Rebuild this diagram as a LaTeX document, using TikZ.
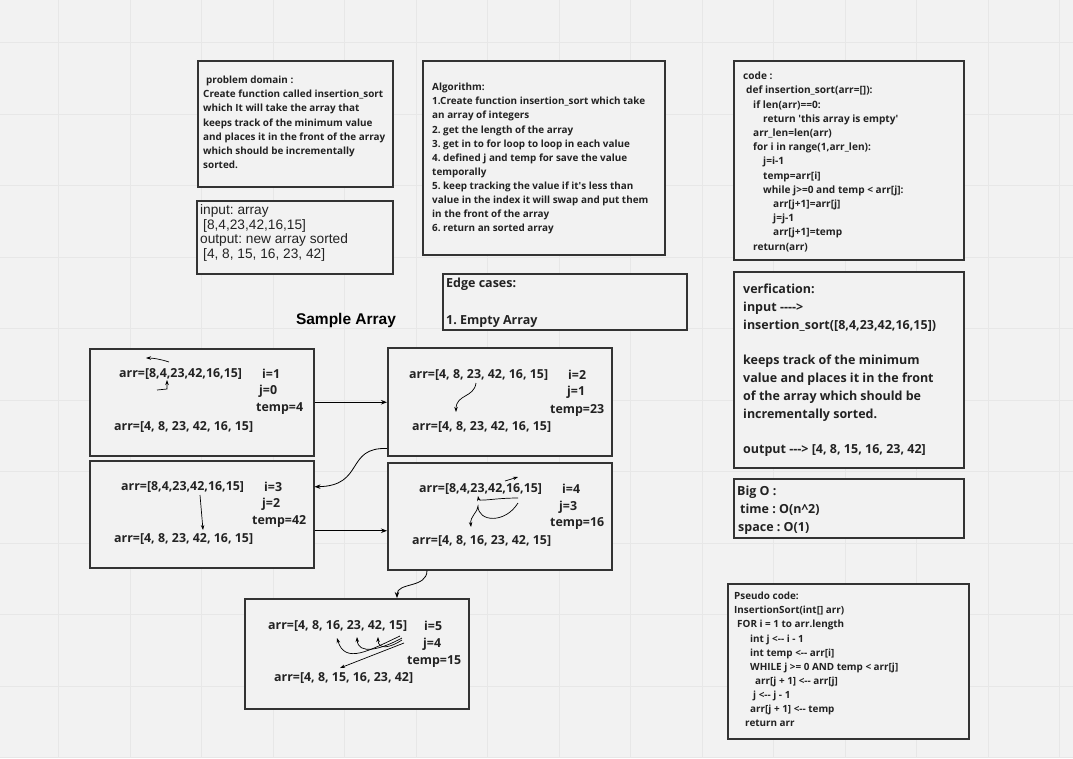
\documentclass[tikz,border=0pt]{standalone}
\usepackage{fontspec}
\setmainfont{Open Sans}
\newfontfamily\arialf{Liberation Sans}
\usetikzlibrary{arrows.meta,calc}
\definecolor{bg}{HTML}{F2F2F2}
\definecolor{gridc}{HTML}{E7E7E7}
\definecolor{edgec}{HTML}{333333}
\definecolor{txt}{HTML}{222222}
\begin{document}
\frenchspacing
\begin{tikzpicture}[x=1pt,y=-1pt,
 box/.style={draw=edgec,line width=1.5pt,fill=bg,anchor=north west,inner sep=0pt},
 blk/.style={anchor=north west,inner sep=0pt,align=left,text=txt,font=\bfseries\fontsize{9.9}{14.1}\selectfont},
 bigblk/.style={anchor=north west,inner sep=0pt,align=left,text=txt,font=\bfseries\fontsize{12.5}{17.8}\selectfont},
 ln/.style={anchor=west,inner sep=0pt,text=txt,font=\bfseries\fontsize{12.4}{14}\selectfont},
 con/.style={draw=black,line width=0.8pt,-{Stealth[length=6pt,width=4.5pt]}},
 mini/.style={draw=black,line width=0.7pt,-{Stealth[length=5pt,width=3.5pt]}},
]
\fill[bg] (0,0) rectangle (1073,758);
\useasboundingbox (0,0) rectangle (1073,758);
\foreach \gx in {58.5,130,...,1070} \draw[gridc,line width=0.6pt] (\gx,0) -- (\gx,758);
\foreach \gy in {42.5,114,...,758} \draw[gridc,line width=0.6pt] (0,\gy) -- (1073,\gy);

% boxes
\node[box,minimum width=195pt,minimum height=126pt] (pd) at (197,60) {};
\node[box,minimum width=242pt,minimum height=194pt] (alg) at (422,60) {};
\node[box,minimum width=230pt,minimum height=199pt] (code) at (733,60) {};
\node[box,minimum width=196pt,minimum height=73pt] (inp) at (196,200) {};
\node[box,minimum width=244pt,minimum height=56pt] (edge) at (442,273) {};
\node[box,minimum width=230pt,minimum height=196pt] (ver) at (733,271) {};
\node[box,minimum width=230pt,minimum height=59pt] (bigo) at (733,478) {};
\node[box,minimum width=241pt,minimum height=155pt] (pseudo) at (727,583) {};
\node[box,minimum width=224pt,minimum height=107pt] (bA) at (89,348) {};
\node[box,minimum width=224pt,minimum height=108pt] (bB) at (387,347) {};
\node[box,minimum width=224pt,minimum height=107pt] (bC) at (89,460) {};
\node[box,minimum width=224pt,minimum height=107pt] (bD) at (387,462) {};
\node[box,minimum width=224pt,minimum height=110pt] (bE) at (244,598) {};

% texts
\node[blk] (tpd) at (203,76) {\hspace*{3pt}problem domain :\\
Create function called insertion\_sort\\
which It will take the array that\\
keeps track of the minimum value\\
and places it in the front of the array\\
which should be incrementally\\
sorted.};

\node[blk] (talg) at (432,83) {Algorithm:\\
1.Create function insertion\_sort which take\\
an array of integers\\
2. get the length of the array\\
3. get in to for loop to loop in each value\\
4. defined j and temp for save the value\\
temporally\\
5. keep tracking the value if it\textquotesingle s less than\\
value in the index it will swap and put them\\
in the front of the array\\
6. return an sorted array};

\node[blk,font=\bfseries\fontsize{10.1}{14.2}\selectfont] (tcode) at (743,71.9) {code :\\
\hspace*{3pt}def insertion\_sort(arr={}[{}]):\\
\hspace*{10pt}if len(arr)==0:\\
\hspace*{20pt}return \textquotesingle this array is empty\textquotesingle\\
\hspace*{10pt}arr\_len=len(arr)\\
\hspace*{10pt}for i in range(1,arr\_len):\\
\hspace*{20pt}j=i-1\\
\hspace*{20pt}temp=arr[i]\\
\hspace*{20pt}while j>=0 and temp < arr[j]:\\
\hspace*{30pt}arr[j+1]=arr[j]\\
\hspace*{30pt}j=j-1\\
\hspace*{30pt}arr[j+1]=temp\\
\hspace*{10pt}return(arr)};

\node[anchor=north west,inner sep=0pt,align=left,text=txt,font=\arialf\fontsize{13.7}{14.5}\selectfont] (tinp) at (200,204.5) {input: array\\
\hspace*{3pt}[8,4,23,42,16,15]\\
output: new array sorted\\
\hspace*{3pt}[4, 8, 15, 16, 23, 42]};

\node[bigblk,font=\bfseries\fontsize{12.5}{18.5}\selectfont] (tedge) at (446,278) {Edge cases:\\[18.5pt]
1. Empty Array};

\node[bigblk] (tver) at (743,284) {verfication:\\
input -{}-{}-{}->\\
insertion\_sort([8,4,23,42,16,15])\\[17.8pt]
keeps track of the minimum\\
value and places it in the front\\
of the array which should be\\
incrementally sorted.\\[17.8pt]
output -{}-{}-> [4, 8, 15, 16, 23, 42]};

\node[bigblk,font=\bfseries\fontsize{12.5}{18}\selectfont] (tbigo) at (737,486) {Big O :\\
\hspace*{3pt}time : O(n\textasciicircum 2)\\
\hspace*{1pt}space : O(1)};

\node[blk] (tpseudo) at (734,592) {Pseudo code:\\
InsertionSort(int[{}] arr)\\
\hspace*{3pt}FOR i = 1 to arr.length\\
\hspace*{16pt}int j <-{}- i - 1\\
\hspace*{16pt}int temp <-{}- arr[i]\\
\hspace*{16pt}WHILE j >= 0 AND temp < arr[j]\\
\hspace*{21pt}arr[j + 1] <-{}- arr[j]\\
\hspace*{19pt}j <-{}- j - 1\\
\hspace*{16pt}arr[j + 1] <-{}- temp\\
\hspace*{11pt}return arr};

\node[anchor=center,inner sep=0pt,text=black,font=\arialf\bfseries\fontsize{15.5}{18}\selectfont] (tsample) at (346,320) {Sample Array};

% box A
\node[ln] (a1) at (119,374) {arr=[8,4,23,42,16,15]};
\node[ln] (ai) at (262,374) {i=1};
\node[ln] (aj) at (259,391) {j=0};
\node[ln] (at) at (256,409) {temp=4};
\node[ln] (a2) at (114,427) {arr=[4, 8, 23, 42, 16, 15]};
% box B
\node[ln] (b1) at (409,375) {arr=[4, 8, 23, 42, 16, 15]};
\node[ln] (bi) at (568,375) {i=2};
\node[ln] (bj) at (567,392) {j=1};
\node[ln] (bt) at (550,410) {temp=23};
\node[ln] (b2) at (412,427) {arr=[4, 8, 23, 42, 16, 15]};
% box C
\node[ln] (c1) at (121,487) {arr=[8,4,23,42,16,15]};
\node[ln] (ci) at (264,487) {i=3};
\node[ln] (cj) at (262,504) {j=2};
\node[ln] (ct) at (252,521) {temp=42};
\node[ln] (c2) at (114,539) {arr=[4, 8, 23, 42, 16, 15]};
% box D
\node[ln] (d1) at (419,489) {arr=[8,4,23,42,16,15]};
\node[ln] (di) at (562,489) {i=4};
\node[ln] (dj) at (559,507) {j=3};
\node[ln] (dt) at (550,524) {temp=16};
\node[ln] (d2) at (412,541) {arr=[4, 8, 16, 23, 42, 15]};
% box E
\node[ln] (e1) at (268,626) {arr=[4, 8, 16, 23, 42, 15]};
\node[ln] (ei) at (424,626) {i=5};
\node[ln] (ej) at (423,644) {j=4};
\node[ln] (et) at (407,662) {temp=15};
\node[ln] (e2) at (274,678) {arr=[4, 8, 15, 16, 23, 42]};

% small arrows inside boxes
\coordinate (pa1) at (169,362); \coordinate (pa2) at (146,358);
\draw[mini] (pa1) .. controls (160,359) and (152,358) .. (pa2);
\coordinate (pa3) at (157,390); \coordinate (pa4) at (167,380);
\draw[mini] (pa3) -- (167,389) -- (pa4);
\coordinate (pb1) at (476,383); \coordinate (pb2) at (456,412);
\draw[mini] (pb1) .. controls (474,398) and (456,394) .. (pb2);
\coordinate (pc1) at (200,495); \coordinate (pc2) at (203,530);
\draw[mini] (pc1) -- (pc2);
\coordinate (pd1) at (505,481); \coordinate (pd2) at (518,477);
\draw[mini] (pd1) -- (pd2);
\coordinate (pd3) at (518,498); \coordinate (pd4) at (478,496);
\draw[mini] (pd3) .. controls (494,498) and (479,502) .. (pd4);
\coordinate (pd5) at (518,503); \coordinate (pd6) at (471,527);
\draw[mini] (pd5) .. controls (505,524) and (478,522) .. (478,506) .. controls (478,512) and (470,516) .. (pd6);
\coordinate (pe1) at (400,636); \coordinate (pe2) at (337,638);
\draw[mini] (pe1) .. controls (370,650) and (345,665) .. (pe2);
\coordinate (pe3) at (402,638); \coordinate (pe4) at (357,637);
\draw[mini] (pe3) .. controls (380,650) and (358,655) .. (pe4);
\coordinate (pe5) at (402,640); \coordinate (pe6) at (378,637);
\draw[mini] (pe5) .. controls (390,648) and (378,650) .. (pe6);
\coordinate (pe7) at (404,643); \coordinate (pe8) at (340,668);
\draw[mini] (pe7) -- (pe8);

% connectors between boxes
\draw[con] (bA.east) -- (bA.east -| bB.west);
\coordinate (cB) at ($(bB.south west)+(0,-8)$);
\coordinate (cCin) at ($(bC.east)+(0,-27.5)$);
\draw[con] (cB) .. controls (345,447) and (365,486) .. (cCin);
\coordinate (cC) at ($(bC.east)+(0,16.5)$);
\draw[con] (cC) -- (cC -| bD.west);
\coordinate (cD) at ($(bD.south west)+(40,0)$);
\coordinate (cE) at ($(bE.north west)+(153,0)$);
\draw[con] (cD) .. controls +(0,18) and +(0,-16) .. (cE);
\end{tikzpicture}
\end{document}
